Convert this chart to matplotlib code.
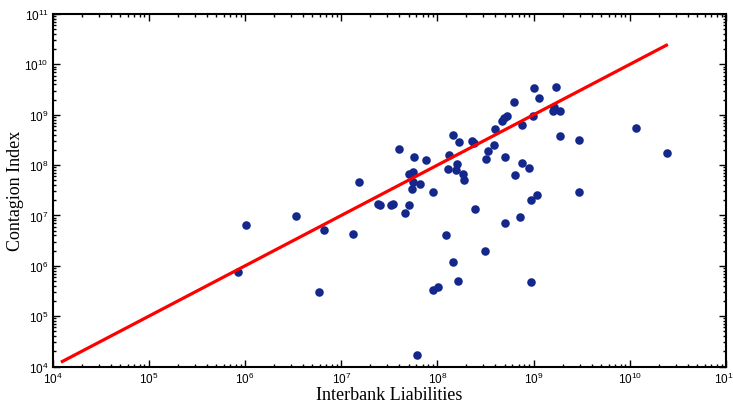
import numpy as np
import matplotlib
matplotlib.use("Agg")
import matplotlib.pyplot as plt
from matplotlib.ticker import LogLocator, LogFormatterMathtext, NullFormatter

# log10 of interbank liabilities / contagion index
log_liab = [5.93, 6.006, 6.526, 6.771, 6.823, 7.119, 7.187, 7.385, 7.402, 7.513, 7.541,
            7.603, 7.662, 7.707, 7.70, 7.749, 7.753, 7.742, 7.738, 7.818, 7.880, 7.956,
            7.79, 7.95, 8.002, 8.085, 8.158, 8.21, 8.158, 8.123, 8.106, 8.203, 8.192,
            8.227, 8.262, 8.279, 8.359, 8.38, 8.387, 8.497, 8.501, 8.528, 8.587, 8.595,
            8.674, 8.695, 8.726, 8.702, 8.699, 8.792, 8.806, 8.861, 8.875, 8.882, 8.954,
            8.969, 9.031, 8.969, 9.0, 8.996, 9.058, 9.229, 9.204, 9.214, 9.277, 9.274,
            9.468, 9.468, 10.067, 10.383]
log_cont = [5.88, 6.816, 6.994, 5.473, 6.711, 6.625, 7.664, 7.233, 7.217, 7.217, 7.221,
            8.319, 7.042, 7.207, 7.829, 7.856, 8.160, 7.670, 7.525, 7.630, 8.107, 7.471,
            4.234, 5.519, 5.585, 6.605, 6.081, 5.698, 8.597, 8.206, 7.922, 8.028, 7.896,
            8.461, 7.823, 7.703, 8.472, 8.438, 7.121, 6.300, 8.114, 8.273, 8.405, 8.716,
            8.875, 8.928, 8.968, 8.154, 6.843, 9.258, 7.797, 6.975, 8.041, 8.802, 7.948,
            7.306, 7.405, 5.672, 9.536, 8.968, 9.326, 9.550, 9.067, 9.159, 9.073, 8.577,
            8.492, 7.465, 8.736, 8.233]

# fitted power law (log-log line)
fit_slope = 1.0
fit_intercept = 0.0
fit_x = [1.26e4, 2.4e10]

plt.rcParams['mathtext.fontset'] = 'custom'
plt.rcParams['mathtext.rm'] = 'Liberation Sans'
plt.rcParams['mathtext.it'] = 'Liberation Sans'
plt.rcParams['font.family'] = 'Liberation Sans'

liab = 10 ** np.array(log_liab)
cont = 10 ** np.array(log_cont)
fx = np.array(fit_x)
fy = 10 ** (fit_intercept + fit_slope * np.log10(fx))

fig = plt.figure(figsize=(7.33, 4.02), dpi=100)
ax = fig.add_axes([0.0719, 0.0858, 0.9186, 0.8769])

ax.scatter(liab, cont, s=38, color="#14288c", zorder=2, linewidths=0)
ax.plot(fx, fy, color="#ff0000", lw=2.3, zorder=3)

ax.set_xscale("log")
ax.set_yscale("log")
ax.set_xlim(1e4, 1e11)
ax.set_ylim(1e4, 1e11)

for a in (ax.xaxis, ax.yaxis):
    a.set_major_locator(LogLocator(base=10, numticks=20))
    a.set_minor_locator(LogLocator(base=10, subs=np.arange(2, 10), numticks=20))
    a.set_major_formatter(LogFormatterMathtext())
    a.set_minor_formatter(NullFormatter())

ax.tick_params(which="both", direction="in", top=True, right=True, labelsize=8.5,
               width=1.0)
ax.tick_params(which="major", length=5, pad=3)
ax.tick_params(which="minor", length=2.5)
for s in ax.spines.values():
    s.set_linewidth(1.5)

ax.set_xlabel("Interbank Liabilities", family="Liberation Serif", fontsize=13, labelpad=0)
ax.set_ylabel("Contagion Index", family="Liberation Serif", fontsize=13, labelpad=0)

fig.savefig("out.png", dpi=100)
